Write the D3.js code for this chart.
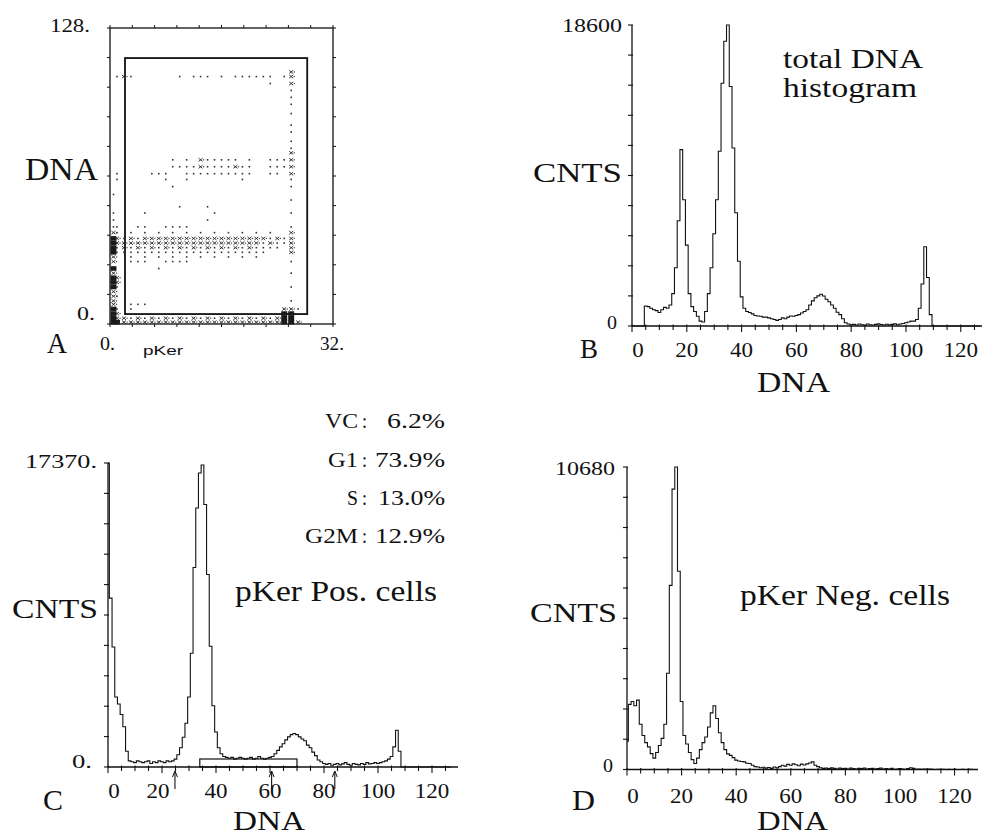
<!DOCTYPE html>
<html><head><meta charset="utf-8">
<script src="https://cdn.jsdelivr.net/npm/d3@7"></script>
<style>
body{margin:0;background:#fff}
svg{display:block;background:#fff}
</style>
</head><body>
<svg id="c" width="982" height="837"></svg>
<script>
// ================= DATA =================
// DNA channel histograms (128 channels, value per channel)
const totalDNA = [
  0,0,0,0,0, 1240,1200,1100,1000,950,
  830,1000,1150,1100,1300, 2000,3600,6500,10900,7800,
  5000,2000,1200,900,600, 300,250,900,2000,3600,
  5700,7800,10800,15000,17600, 18600,14800,11000,7000,4000,
  1800,1100,900,830,750, 650,620,600,550,550,
  500,450,400,350,400, 500,450,550,620,600,
  650,700,800,900,1000, 1300,1550,1750,1860,1960,
  1850,1650,1500,1300,1100, 850,700,450,200,120,
  80,100,60,120,80, 50,120,80,60,100,
  140,90,60,110,70, 100,130,80,120,150,
  200,250,300,300,400, 1100,2600,4900,3000,700,
  0,0,0,0,0, 0,0,0,0,0,
  0,0,0,0,0, 0,0,0
];
const posCells = [
  17370,9650,6860,4000,3600, 3000,2300,900,350,300,
  250,350,300,250,300, 350,200,300,250,350,
  300,250,350,300,350, 450,700,1100,1700,2500,
  4000,6500,11400,14800,16800, 17260,15000,11000,6900,3500,
  2000,1100,760,600,550, 500,550,450,500,550,
  500,450,500,550,450, 500,600,500,450,500,
  550,600,760,950,1150, 1330,1550,1720,1850,1910,
  1850,1720,1600,1500,1250, 1100,850,650,400,300,
  200,150,200,100,150, 200,120,180,250,150,
  100,200,150,120,200, 150,250,180,200,250,
  200,250,300,350,450, 600,1150,2100,900,0,
  0,0,0,0,0, 0,0,0,0,0,
  0,0,0,0,0, 0,0,0
];
const negCells = [
  1000,2300,2400,2250,2450, 1600,1200,950,800,560,
  400,600,850,1100,1600, 3400,6500,9900,10680,7000,
  2400,1200,900,600,350, 210,400,700,950,1150,
  1500,2000,2250,1800,1300, 950,700,550,500,420,
  330,300,280,270,220, 210,150,100,90,60,
  80,50,70,40,90, 60,100,150,120,180,
  150,200,170,130,190, 160,200,230,270,150,
  100,60,40,50,30, 60,40,20,50,30,
  40,20,50,30,20, 40,30,50,20,30,
  40,20,30,50,20, 30,20,40,10,20,
  30,20,10,30,60, 40,10,20,10,20,
  10,20,10,0,10, 0,10,0,10,0,
  10,0,0,10,0, 0,10,0
];
const maxB = 18600, maxC = 17370, maxD = 10680;
const histTickLabels = [0,20,40,60,80,100,120];
const histMinorTicks = [0,5,10,15,20,25,30,35,40,45,50,55,60,65,70,75,80,85,90,95,100,105,110,115,120,125];

// cell-cycle analysis of panel C
const phaseNames = ["VC","G1","S","G2M"];
const phaseValues = ["6.2%","73.9%","13.0%","12.9%"];
const sPhaseRange = [34, 70];
const markerDNA = [24.8, 60.6, 84];

// Panel A : pKer (0-32) vs DNA (0-128) dot plot, one row per DNA level,
// one character per pKer channel ('.' none, 'o' dot, 'x' denser, '#' dense)
const aTicksX = [0,3.2,6.4,9.6,12.8,16,19.2,22.4,25.6,28.8,32];
const aTicksY = [0,12.8,25.6,38.4,51.2,64,76.8,89.6,102.4,115.2,128];
const gatePKer = [2.15, 28.3];
const gateDNA = [4.3, 115];
const rowDNA = [109,107,104,101,98,95,91,86,83,79,76,74,71,68,65,62.5,59.4,56,53.6,50.7,48,45,42,39.5,37,35,33,31,29,27,24,22,20,18,16,14,12,10,8.5,6.5,4.5,2.5,0.8];
const rowCells = [
  ".... .... .... .... .... .... ..x. ....",
  ".oxo .... ..o. ooo. o.oo oooo .ox. ....",
  ".... .... .... .... .... ...o ..x. ....",
  ".... .... .... .... .... .... ..o. ....",
  ".... .... .... .... .... .... ..o. ....",
  ".... .... .... .... .... .... ..o. ....",
  ".... .... .... .... .... .... ..o. ....",
  ".... .... .... .... .... .... ..o. ....",
  ".... .... .... .... .... .... ..o. ....",
  ".... .... .... .... .... .... ..o. ....",
  ".... .... .... .... .... .... ..o. ....",
  ".... .... .... .... .... .... ..x. ....",
  ".... .... .o.o .xoo ooo. o..o oox. ....",
  ".... .... .ooo oxoo ooxo o..o oox. ....",
  ".o.. ..oo o..o oooo oooo o..o o.x. ....",
  ".o.. .... o..o .... ...o .... ..o. ....",
  ".... .... .o.. .... .... .... ..o. ....",
  "o... .... .... .... .... .... .... ....",
  ".... .... .... .... .... .... ..o. ....",
  ".... .... ..o. ..o. .... .... .... ....",
  "o... .o.. .... ...o .... .... ..o. ....",
  "o... .... .... ..o. .... .... .... ....",
  "oo.. oo.. oooo .... .... .... ..o. ....",
  "xo.o .o.o .o.o .o.o .o.o .o.o ..x. ....",
  "#xox oxxx xxxx xxxx xxxx xxxo xox. ....",
  "#xxx xxxx xxxx xxxx xxxx xxox oox. ....",
  "#oxo xoxo xoxo xoxo xoxo xooo o.x. ....",
  "#ooo oooo oooo oooo oooo ooo. ..x. ....",
  "x..o .o.o .o.o .o.o .o.o .o.. .... ....",
  "x..o oo.. oooo .... .... .... ..o. ....",
  "#... ...o .... .... .... .... .... ....",
  "x... .... .... .... .... .... ..o. ....",
  "#x.. .... .... .... .... .... .... ....",
  "#x.. .... .... .... .... .... .... ....",
  "#o.. .... .... .... .... .... ..o. ....",
  "x... .... .... .... .... .... .... ....",
  "xo.. .... .... .... .... .... .... ....",
  "x... .... .... .... .... .... ..o. ....",
  "x..o oo.. .... .... .... .... .... ....",
  "#o.o .... .... .... .... .... .xxo ....",
  "#x.. .... .... .... .... .... .##. ....",
  "#xxo xoxo xoxo xoxo xoxo xoxo x##. ....",
  "##xx xxxx xxxx xxxx xxxx xxxx x##x ...."
];

// ================= DRAWING =================
const svg = d3.select("#c");
const INK = "#111";
const SERIF = "Liberation Serif";
const SANS = "Liberation Sans";

function label(x, y, s, size, len, opts) {
  opts = opts || {};
  const t = svg.append("text").attr("x", x).attr("y", y)
    .attr("font-size", size).attr("font-family", opts.family || SERIF)
    .attr("fill", INK)
    .attr("text-anchor", opts.anchor || "start").text(s);
  if (len) t.attr("textLength", len).attr("lengthAdjust", "spacingAndGlyphs");
  return t;
}

// ---------- Panel A ----------
const xA = d3.scaleLinear().domain([0, 32]).range([110, 333]);
const yA = d3.scaleLinear().domain([0, 128]).range([324, 28]);
const gA = svg.append("g");
gA.append("rect").attr("x", xA(0)).attr("y", yA(128)).attr("width", xA(32) - xA(0)).attr("height", yA(0) - yA(128))
  .attr("fill", "none").attr("stroke", INK).attr("stroke-width", 1.3);
gA.selectAll(".tt").data(aTicksX).join("line").attr("x1", d => xA(d)).attr("x2", d => xA(d))
  .attr("y1", yA(128)).attr("y2", yA(128) - 3).attr("stroke", INK);
gA.selectAll(".tb").data(aTicksX).join("line").attr("x1", d => xA(d)).attr("x2", d => xA(d))
  .attr("y1", yA(0)).attr("y2", yA(0) + 3).attr("stroke", INK);
gA.selectAll(".tl").data(aTicksY).join("line").attr("x1", xA(0)).attr("x2", xA(0) - 3)
  .attr("y1", d => yA(d)).attr("y2", d => yA(d)).attr("stroke", INK);
gA.selectAll(".tr").data(aTicksY).join("line").attr("x1", xA(32)).attr("x2", xA(32) + 3)
  .attr("y1", d => yA(d)).attr("y2", d => yA(d)).attr("stroke", INK);
// gate
gA.append("rect").attr("x", xA(gatePKer[0])).attr("y", yA(gateDNA[1]))
  .attr("width", xA(gatePKer[1]) - xA(gatePKer[0])).attr("height", yA(gateDNA[0]) - yA(gateDNA[1]))
  .attr("fill", "none").attr("stroke", INK).attr("stroke-width", 1.8);
// dots
const cells = [];
rowCells.forEach((s, r) => {
  const chars = s.replace(/ /g, "");
  for (let i = 0; i < chars.length; i++) {
    if (chars[i] !== ".") cells.push({ p: Math.max(i, 0.5), d: rowDNA[r], k: chars[i] });
  }
});
const cw = xA(1) - xA(0), ch = yA(0) - yA(2);
const gD = gA.append("g");
cells.forEach(c => {
  const cx = xA(c.p), cy = yA(c.d);
  if (c.k === "o") {
    gD.append("rect").attr("x", cx - 0.8).attr("y", cy - 0.8).attr("width", 1.6).attr("height", 1.6).attr("fill", "#333");
  } else if (c.k === "x") {
    gD.append("path").attr("d", `M${cx-2},${cy-1.6}L${cx+2},${cy+1.6}M${cx-2},${cy+1.6}L${cx+2},${cy-1.6}`)
      .attr("stroke", "#222").attr("stroke-width", 0.9);
    gD.append("rect").attr("x", cx + 2.5).attr("y", cy - 0.6).attr("width", 1.2).attr("height", 1.2).attr("fill", "#444");
  } else if (c.k === "#") {
    gD.append("rect").attr("x", cx - cw / 2 + 0.5).attr("y", cy - ch / 2).attr("width", cw - 1).attr("height", ch).attr("fill", "#1a1a1a");
  }
});
label(50, 32, "128.", 19, 40);
label(25, 180, "DNA", 32, 73);
label(77, 320, "0.", 19, 18);
label(47, 353, "A", 30, 20);
label(100, 350, "0.", 19, 15);
label(320, 350, "32.", 19, 24);
label(143, 355, "pKer", 13, 40, { family: SANS });

// ---------- Histogram panels ----------
function histogram(values, ymax, x, y, axisEnd, tickBase, opts) {
  const g = svg.append("g");
  g.append("line").attr("x1", x(0)).attr("x2", axisEnd).attr("y1", y(0)).attr("y2", y(0))
    .attr("stroke", INK).attr("stroke-width", 1.3);
  g.selectAll(".mt").data(histMinorTicks).join("line")
    .attr("x1", d => x(d)).attr("x2", d => x(d))
    .attr("y1", y(0) - 1.5).attr("y2", d => y(0) + (d % 20 === 0 ? 6 : 4))
    .attr("stroke", INK).attr("stroke-width", 1.1);
  g.append("line").attr("x1", x(0)).attr("x2", x(0)).attr("y1", y(0)).attr("y2", y(ymax))
    .attr("stroke", INK).attr("stroke-width", 1.3);
  const yt = d3.range(0, 11).map(i => ymax * i / 10);
  g.selectAll(".yt").data(yt).join("line")
    .attr("x1", x(0) - 4).attr("x2", x(0) + 1).attr("y1", d => y(d)).attr("y2", d => y(d))
    .attr("stroke", INK).attr("stroke-width", 1.1);
  const line = d3.line().x((d, i) => x(i)).y(d => y(Math.min(d, ymax))).curve(d3.curveStep);
  g.append("path").datum(values).attr("d", line).attr("fill", "none")
    .attr("stroke", INK).attr("stroke-width", 1.1);
  histTickLabels.forEach(v => {
    const s = String(v);
    label(x(v) + (v === 0 ? 6 : 0) + (opts && opts.shift && opts.shift[v] || 0), tickBase, s, 20, 11.5 * s.length, { anchor: "middle" });
  });
  return g;
}

// B
const xB = d3.scaleLinear().domain([0, 128]).range([632, 982.7]);
const yB = d3.scaleLinear().domain([0, maxB]).range([326, 25]);
histogram(totalDNA, maxB, xB, yB, 982, 357);
label(562, 32, "18600", 19, 60);
label(533, 182, "CNTS", 27, 89);
label(607, 329, "0", 19, 10);
label(783, 68, "total DNA", 28, 140);
label(783, 97, "histogram", 28, 134);
label(580, 358, "B", 28, 18);
label(757, 392, "DNA", 30, 73);

// C
const xC = d3.scaleLinear().domain([0, 128]).range([108, 453.6]);
const yC = d3.scaleLinear().domain([0, maxC]).range([767, 463]);
const gC = histogram(posCells, maxC, xC, yC, 458, 798, { shift: { 20: -4 } });
gC.append("rect").attr("x", xC(sPhaseRange[0])).attr("y", yC(0) - 8)
  .attr("width", xC(sPhaseRange[1]) - xC(sPhaseRange[0])).attr("height", 8)
  .attr("fill", "none").attr("stroke", INK).attr("stroke-width", 1.2);
markerDNA.forEach(v => {
  const mx = xC(v);
  gC.append("line").attr("x1", mx).attr("x2", mx).attr("y1", 771).attr("y2", 789).attr("stroke", INK).attr("stroke-width", 1.1);
  gC.append("path").attr("d", `M${mx-2.5},${777}L${mx},${771}L${mx+2.5},${777}`).attr("fill", "none").attr("stroke", INK).attr("stroke-width", 1);
});
label(25, 468, "17370.", 19, 72);
label(12, 618, "CNTS", 27, 86);
label(72, 768, "0.", 19, 20);
label(235, 601, "pKer Pos. cells", 29, 202);
label(43, 810, "C", 30, 20);
label(233, 830, "DNA", 28, 72);
const nameW = { "VC": 33, "G1": 30, "S": 11, "G2M": 53 };
const valW = [58, 70, 67, 70];
const statBase = [428, 467, 505, 543];
phaseNames.forEach((n, i) => {
  label(358 - nameW[n], statBase[i], n, 22, nameW[n]);
  label(362, statBase[i], ":", 22, 5);
  label(445 - valW[i], statBase[i], phaseValues[i], 22, valW[i]);
});

// D
const xD = d3.scaleLinear().domain([0, 128]).range([627, 976.4]);
const yD = d3.scaleLinear().domain([0, maxD]).range([769.5, 467]);
histogram(negCells, maxD, xD, yD, 978, 803);
label(555, 475, "10680", 19, 60);
label(530, 622, "CNTS", 27, 87);
label(603, 772, "0", 19, 10);
label(740, 605, "pKer Neg. cells", 29, 210);
label(572, 810, "D", 30, 23);
label(757, 830, "DNA", 28, 71);
</script>
</body></html>
